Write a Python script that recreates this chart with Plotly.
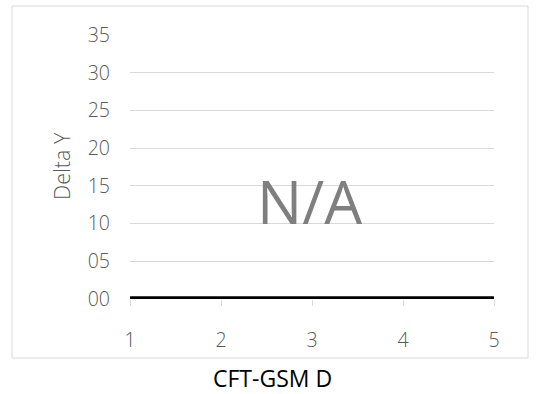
import plotly.graph_objects as go

# Data
x_values = [1, 2, 3, 4, 5]
y_values = [0, 0, 0, 0, 0]
y_tickvals = [0, 5, 10, 15, 20, 25, 30, 35]
y_ticktext = ["00", "05", "10", "15", "20", "25", "30", "35"]
x_tickvals = [1, 2, 3, 4, 5]
x_ticktext = ["1", "2", "3", "4", "5"]
chart_title = "CFT-GSM D"
y_title = "Delta Y"
overlay_text = "N/A"

W, H = 537, 394
L, R, T, B = 130, 43, 35, 95
pw, ph = W - L - R, H - T - B

def px(xp):
    return (xp - L) / pw

def py(yp):
    return (H - B - yp) / ph

fig = go.Figure()
fig.add_trace(go.Scatter(x=x_values, y=y_values, mode="lines",
                         line=dict(color="black", width=5.5), showlegend=False,
                         hoverinfo="skip"))

tickfont = dict(family="Open Sans", size=19.5, color="#595959", weight=300)

fig.update_layout(
    width=W, height=H,
    margin=dict(l=L, r=R, t=T, b=B),
    paper_bgcolor="white", plot_bgcolor="white",
    xaxis=dict(range=[1, 5], tickvals=x_tickvals, ticktext=x_ticktext,
               showgrid=False, zeroline=False, showline=False,
               ticks="outside", ticklen=6, tickcolor="#d9d9d9", tickwidth=1,
               ticklabelstandoff=18, tickfont=tickfont, fixedrange=True),
    yaxis=dict(range=[0, 35], tickvals=y_tickvals, ticktext=y_ticktext,
               showgrid=True, gridcolor="#d9d9d9", gridwidth=1,
               zeroline=False, showline=False, ticks="",
               ticklabelstandoff=19, tickfont=tickfont, fixedrange=True),
    shapes=[dict(type="rect", xref="paper", yref="paper",
                 x0=px(12), x1=px(528), y0=py(358), y1=py(6),
                 line=dict(color="#d9d9d9", width=1), layer="below")],
    annotations=[
        dict(text=overlay_text, xref="paper", yref="paper",
             x=px(309), y=py(201), xanchor="center", yanchor="middle",
             showarrow=False,
             font=dict(family="Open Sans", size=60, color="#7f7f7f")),
        dict(text=y_title, xref="paper", yref="paper",
             x=px(61), y=py(166), xanchor="center", yanchor="middle",
             textangle=-90, showarrow=False,
             font=dict(family="Open Sans", size=21.5, color="#595959", weight=300)),
        dict(text=chart_title, xref="paper", yref="paper",
             x=px(272), y=py(378), xanchor="center", yanchor="middle",
             showarrow=False,
             font=dict(family="Open Sans", size=23, color="black")),
    ],
)

fig.write_html("out.html", config={"displayModeBar": False},
               post_script="document.body.style.margin='0';document.body.style.padding='0';")
